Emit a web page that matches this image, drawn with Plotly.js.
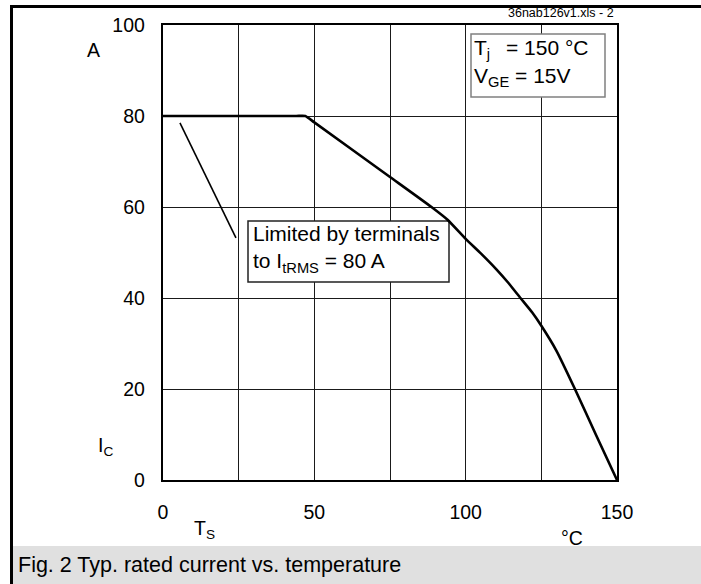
<!DOCTYPE html>
<html>
<head>
<meta charset="utf-8">
<script src="https://cdn.plot.ly/plotly-3.0.1.min.js"></script>
<style>
  html, body { margin: 0; padding: 0; background: #ffffff; }
  #chart { width: 701px; height: 584px; }
</style>
</head>
<body>
<div id="chart"></div>
<script>
// Rated collector current vs. heatsink temperature
const temperature  = [0, 44, 47, 50, 75, 88.7, 94, 100, 105, 110, 114, 118.1, 122, 125, 130, 136.1, 143, 150];
const ratedCurrent = [80, 80, 80, 78.6, 66.6, 60, 57.2, 53, 49.8, 46.4, 43.4, 40, 36.8, 33.9, 28.4, 20, 10, 0];

// Leader line of the "Limited by terminals" note
const leaderX = [5.6, 24.1];
const leaderY = [78.5, 53.2];

// Axis ticks
const xTickVals = [0, 25, 50, 75, 100, 125, 150];
const xTickText = ['0', '', '50', '', '100', '', '150'];
const yTickVals = [0, 20, 40, 60, 80, 100];
const yTickText = ['0', '20', '40', '60', '80', '100'];

const FONT = 'Liberation Sans, Arial, Helvetica, sans-serif';

// plot area in page pixels: left 163, right 617, top 25, bottom 480
const PX = x => (x - 163) / 454;
const PY = y => (480 - y) / 455;
// same pixels expressed in axis units
const DX = x => PX(x) * 150;
const DY = y => PY(y) * 100;

const traces = [
  {
    x: temperature, y: ratedCurrent, type: 'scatter', mode: 'lines',
    line: { color: '#000000', width: 2.6, shape: 'spline', smoothing: 0.45 },
    hoverinfo: 'skip', showlegend: false
  },
  {
    x: leaderX, y: leaderY, type: 'scatter', mode: 'lines',
    line: { color: '#000000', width: 1.6 }, hoverinfo: 'skip', showlegend: false
  }
];

function note(text, x, y, xanchor, size, extra) {
  return Object.assign({
    text: text, xref: 'paper', yref: 'paper', x: PX(x), y: PY(y),
    xanchor: xanchor, yanchor: 'middle', showarrow: false,
    font: { family: FONT, size: size, color: '#000000' }
  }, extra || {});
}

const layout = {
  width: 701, height: 584,
  margin: { l: 163, r: 84, t: 25, b: 104, pad: 0 },
  paper_bgcolor: '#ffffff', plot_bgcolor: '#ffffff',
  showlegend: false,
  font: { family: FONT, size: 19.5, color: '#000000' },
  xaxis: {
    range: [0, 150], tickmode: 'array', tickvals: xTickVals, ticktext: xTickText,
    showgrid: true, gridcolor: '#1a1a1a', gridwidth: 1, zeroline: false,
    showline: true, linecolor: '#000000', linewidth: 2.2, mirror: true,
    ticks: '', ticklabelstandoff: 13,
    tickfont: { family: FONT, size: 19.5, color: '#000000' }, fixedrange: true
  },
  yaxis: {
    range: [0, 100], tickmode: 'array', tickvals: yTickVals, ticktext: yTickText,
    showgrid: true, gridcolor: '#1a1a1a', gridwidth: 1, zeroline: false,
    showline: true, linecolor: '#000000', linewidth: 2.2, mirror: true,
    ticks: '', ticklabelstandoff: 12,
    tickfont: { family: FONT, size: 19.5, color: '#000000' }, fixedrange: true
  },
  shapes: [
    // caption band
    { type: 'rect', xref: 'paper', yref: 'paper', layer: 'below',
      x0: PX(13), x1: PX(720), y0: PY(600), y1: PY(546),
      fillcolor: '#e0e0e0', line: { width: 0 } },
    // outer frame
    { type: 'rect', xref: 'paper', yref: 'paper', layer: 'above',
      x0: PX(11.5), x1: PX(720), y0: PY(620), y1: PY(6.5),
      fillcolor: 'rgba(0,0,0,0)', line: { color: '#000000', width: 3 } },
    // box of the terminal-limit note (covers the grid, under the curve)
    { type: 'rect', xref: 'x', yref: 'y', layer: 'between',
      x0: DX(248), x1: DX(449), y0: DY(282), y1: DY(221),
      fillcolor: '#ffffff', line: { color: '#222222', width: 1.5 } },
    // box of the test conditions
    { type: 'rect', xref: 'x', yref: 'y', layer: 'between',
      x0: DX(471), x1: DX(605), y0: DY(97), y1: DY(34),
      fillcolor: '#ffffff', line: { color: '#808080', width: 1.5 } }
  ],
  annotations: [
    note('A', 93, 50, 'center', 19.5),
    note('I<sub>C</sub>', 96, 446, 'left', 19.5),
    note('T<sub>S</sub>', 192, 529, 'left', 19.5),
    note('°C', 559, 538, 'left', 19.5),
    note('36nab126v1.xls - 2', 616, 13, 'right', 12.5),
    note('Fig. 2 Typ. rated current vs. temperature', 16, 565, 'left', 21.5),
    note('Limited by terminals<br>to I<sub>tRMS</sub> = 80 A', 251, 249, 'left', 21, { align: 'left' }),
    note('T<sub>j</sub>', 472, 49, 'left', 21),
    note('= 150 °C', 504, 47, 'left', 21),
    note('V<sub>GE</sub> = 15V', 472, 77, 'left', 21)
  ]
};

Plotly.newPlot('chart', traces, layout, { staticPlot: true, displayModeBar: false });
</script>
</body>
</html>
